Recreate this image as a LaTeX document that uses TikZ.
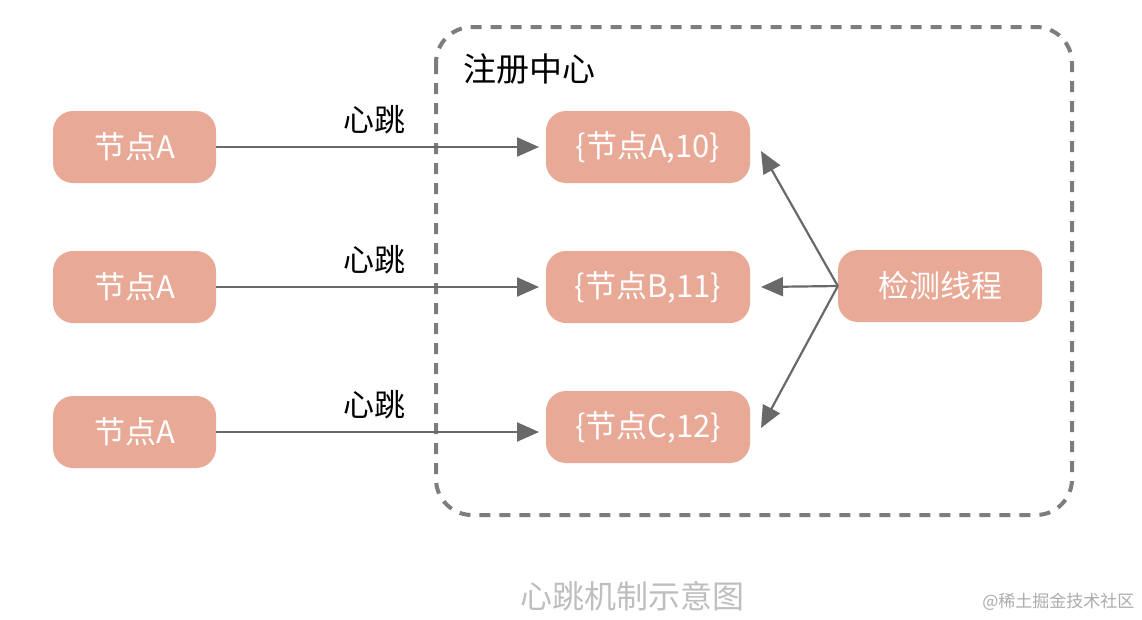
\documentclass[tikz,border=0pt]{standalone}
\usepackage{fontspec}
\setmainfont{Noto Sans CJK SC}
\usetikzlibrary{arrows.meta, positioning, calc}
\definecolor{nodefill}{RGB}{232,169,150}
\definecolor{linegray}{RGB}{105,105,105}
\definecolor{boxgray}{RGB}{125,125,125}
\definecolor{capgray}{RGB}{190,190,190}

\begin{document}
\begin{tikzpicture}[x=1pt,y=-1pt,>={Triangle[length=22pt,width=19pt]},
				box node/.style={rectangle,rounded corners=20pt,fill=nodefill,text=white,
					minimum height=72pt,font=\fontsize{31}{33}\selectfont},
				peer node/.style={box node,minimum width=163pt},
				reg node/.style={box node,minimum width=204pt},
				beat/.style={draw=linegray,line width=2.2pt,->},
				beat label/.style={font=\fontsize{31}{33}\selectfont,text=black}]
				
				\useasboundingbox (0,0) rectangle (1142,619);
				
				% registry area
				\draw[boxgray,line width=4pt,dash pattern=on 11pt off 9pt,rounded corners=36pt]
				(436,27) rectangle (1072,515);
				\node[anchor=west,font=\fontsize{33}{35}\selectfont] (reg) at (460,69) {注册中心};
				
				\node[peer node] (a1) at (134.5,147) {节点A};
				\node[peer node] (a2) at (134.5,287) {节点A};
				\node[peer node] (a3) at (134.5,432) {节点A};
				
				\node[reg node] (r1) at (648,147) {\{节点A,10\}};
				\node[reg node] (r2) at (648,287) {\{节点B,11\}};
				\node[reg node] (r3) at (648,427) {\{节点C,12\}};
				
				\node[reg node] (chk) at (940,286) {检测线程};
				
				\coordinate (t1) at (539,147);
				\coordinate (t2) at (539,287);
				\coordinate (t3) at (539,432);
				
				\draw[beat] (a1.east) -- node[beat label,above=9pt,xshift=-3pt] {心跳} (t1);
				\draw[beat] (a2.east) -- node[beat label,above=9pt,xshift=-3pt] {心跳} (t2);
				\draw[beat] (a3.east) -- node[beat label,above=9pt,xshift=-3pt] {心跳} (t3);
				
				\coordinate (c1) at (761,151);
				\coordinate (c2) at (761,287);
				\coordinate (c3) at (761,428);
				
				\draw[beat] (chk.west) -- (c1);
				\draw[beat] (chk.west) -- (c2);
				\draw[beat] (chk.west) -- (c3);
				
				% caption
				\node[text=capgray,font=\fontsize{32}{34}\selectfont] (cap) at (632,596) {心跳机制示意图};
				\node[text=capgray!90!black,anchor=east,font=\fontsize{17}{19}\selectfont] (mark) at (1138,602) {@稀土掘金技术社区};
			\end{tikzpicture}
\end{document}
